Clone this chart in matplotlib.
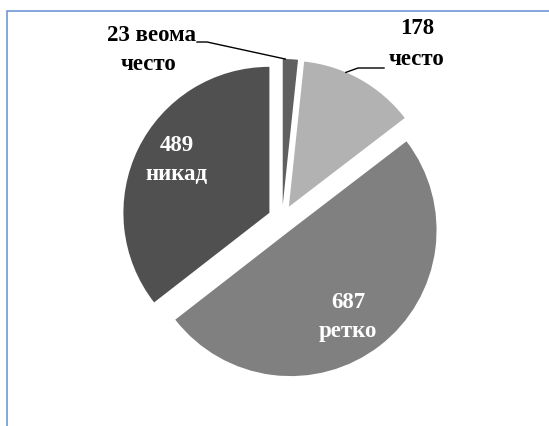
import numpy as np
import matplotlib.pyplot as plt
from matplotlib.patches import Rectangle

values = [23, 178, 687, 489]
names = ['веома\nчесто', 'често', 'ретко', 'никад']
colors = ['#606060', '#b2b2b2', '#808080', '#505050']

W, H = 549, 426
cx, cy, R = 282, 219, 146   # pie centre and radius in pixels


def px(x, y):
    # pixel position (from top left) -> data units of the pie
    return (x - cx) / R, (cy - y) / R


fig = plt.figure(figsize=(W / 100, H / 100), dpi=100)
ax = fig.add_axes([0, 0, 1, 1])
ax.axis('off')

# frame of the chart area, runs off the right and bottom edges
fig.patches.append(Rectangle((7 / W, -0.1), 1.2, 1.1 - 11 / H, transform=fig.transFigure,
                             fill=False, edgecolor='#6f98d4', linewidth=1.2))

wedges, _ = ax.pie(values, colors=colors, startangle=90, counterclock=False,
                   explode=[0.096] * 4, radius=1, wedgeprops=dict(linewidth=0),
                   center=(0, 0))
ax.set_aspect('auto')
ax.set_xlim(-cx / R, (W - cx) / R)
ax.set_ylim(-(H - cy) / R, cy / R)

font = dict(family='Liberation Serif', fontweight='bold', fontsize=16.5, ha='center', va='center')


def edge_point(w, ang):
    a = np.deg2rad(ang)
    return w.center[0] + w.r * np.cos(a), w.center[1] + w.r * np.sin(a)


# 23 веома често
ax.text(*px(152, 36), f'{values[0]} веома', **font)
ax.text(*px(149, 65), 'често', **font)
x0, y0 = px(197, 42)
x1, y1 = px(207, 42)
x2, y2 = edge_point(wedges[0], wedges[0].theta2 - 1)
ax.plot([x0, x1, x2], [y0, y1, y2], color='black', lw=1)

# 178 често
ax.text(*px(417, 29), str(values[1]), **font)
ax.text(*px(417, 60), names[1], **font)
x0, y0 = px(384, 68)
x1, y1 = px(358, 68)
x2, y2 = edge_point(wedges[1], 67)
ax.plot([x0, x1, x2], [y0, y1, y2], color='black', lw=1)

# inner labels
ax.text(*px(348, 302), str(values[2]), color='white', **font)
ax.text(*px(348, 331), names[2], color='white', **font)
ax.text(*px(177, 146), str(values[3]), color='white', **font)
ax.text(*px(177, 175), names[3], color='white', **font)

fig.savefig('out.png', dpi=100)
